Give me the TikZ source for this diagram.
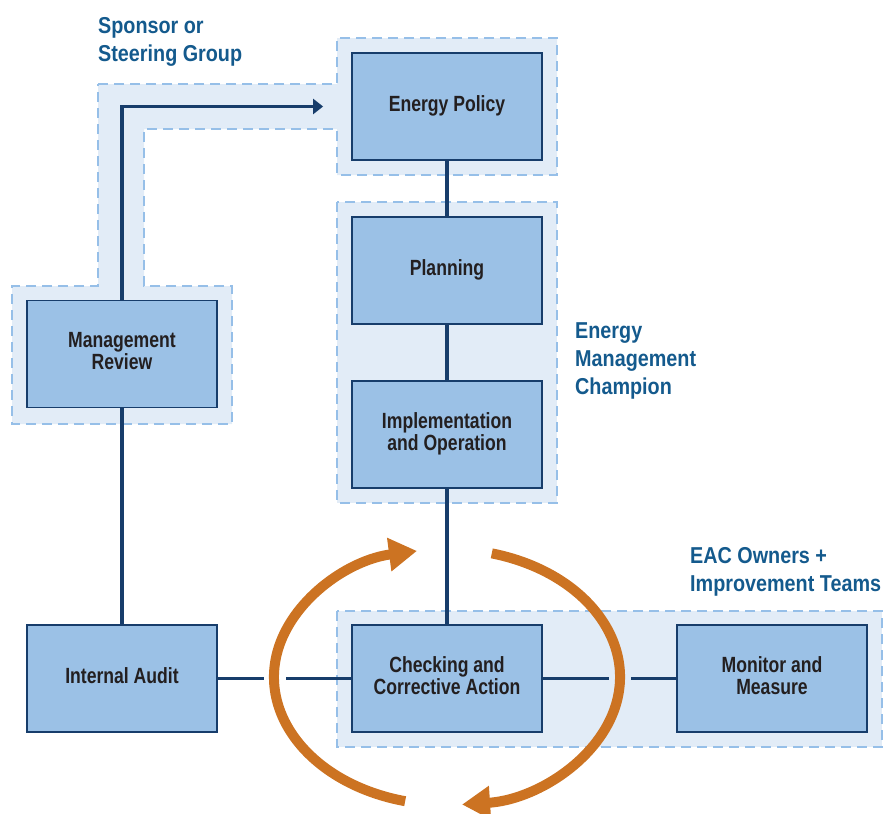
\documentclass[tikz,border=0pt]{standalone}
\usepackage{fontspec}
\setmainfont{Liberation Sans}[FakeStretch=0.86]
\newfontfamily\stagefont{Liberation Sans}[FakeStretch=0.80]
\usetikzlibrary{arrows.meta}

\definecolor{boxfill}{HTML}{9BC1E6}
\definecolor{boxline}{HTML}{173D6B}
\definecolor{zonefill}{HTML}{E2ECF7}
\definecolor{zoneline}{HTML}{96BFE8}
\definecolor{linkcol}{HTML}{173D6B}
\definecolor{labelcol}{HTML}{145A8D}
\definecolor{cyclecol}{HTML}{CC7322}
\definecolor{textcol}{HTML}{231F20}

% centred lines of a stage, each on a strut so the block sits like the set type
\newcommand{\stagelines}[1]{\begin{tabular}{@{}c@{}}#1\end{tabular}}

\tikzset{
  stage/.style={draw=boxline, line width=1.8pt, fill=boxfill,
    minimum width=190pt, minimum height=107pt, inner sep=0pt,
    text=textcol, font=\stagefont\bfseries\fontsize{22}{21}\selectfont},
  zone/.style={fill=zonefill, draw=zoneline, line width=2.6pt,
    dash pattern=on 10pt off 6pt},
  link/.style={draw=linkcol, line width=3.5pt},
  grouplabel/.style={anchor=north west, align=left, inner sep=0pt,
    text=labelcol, font=\bfseries\fontsize{23}{28}\selectfont},
  cyclearrow/.style={draw=cyclecol, line width=10pt,
    -{Triangle[length=28pt,width=32pt]}},
}

\begin{document}
\begin{tikzpicture}[x=1pt,y=1pt]
  \useasboundingbox (0,0) rectangle (884,-814);

  % responsibility zones
  \path[zone] (98,-84) -- (337,-84) -- (337,-38) -- (557,-38) -- (557,-175)
    -- (337,-175) -- (337,-129) -- (144,-129) -- (144,-286) -- (232,-286)
    -- (232,-424) -- (12,-424) -- (12,-286) -- (98,-286) -- cycle;
  \path[zone] (337,-202) rectangle (557,-503);
  \path[zone] (337,-611) rectangle (882,-747);

  % zone labels
  \node[grouplabel] (lsponsor) at (98,-17) {Sponsor or\\Steering Group};
  \node[grouplabel] (lchampion) at (575,-322) {Energy\\Management\\Champion};
  \node[grouplabel] (lowners) at (690,-547.5) {EAC Owners +\\Improvement Teams};

  % process stages
  \node[stage] (ep)  at (447,-106.5) {\stagelines{Energy Policy}};
  \node[stage] (pl)  at (447,-270.5) {\stagelines{Planning}};
  \node[stage] (io)  at (447,-434.5) {\stagelines{Implementation\\and Operation}};
  \node[stage] (mr)  at (122,-354)   {\stagelines{Management\\Review}};
  \node[stage] (ia)  at (122,-678.5) {\stagelines{Internal Audit}};
  \node[stage] (cca) at (447,-678.5) {\stagelines{Checking and\\Corrective Action}};
  \node[stage] (mm)  at (772,-678.5) {\stagelines{Monitor and\\Measure}};

  % gaps where the improvement cycle crosses the links
  \coordinate (gapLa) at (264,-678.5);
  \coordinate (gapLb) at (286,-678.5);
  \coordinate (gapRa) at (609,-678.5);
  \coordinate (gapRb) at (631,-678.5);
  \coordinate (policyin) at ([xshift=-28pt]ep.west);

  % links between stages
  \draw[link] (ep.south) -- (pl.north);
  \draw[link] (pl.south) -- (io.north);
  \draw[link] (io.south) -- (cca.north);
  \draw[link] (mr.south) -- (ia.north);
  \draw[link, -{Triangle[length=10pt,width=15pt]}] (mr.north) |- (policyin);
  \draw[link] (ia.east) -- (gapLa);
  \draw[link] (gapLb) -- (cca.west);
  \draw[link] (cca.east) -- (gapRa);
  \draw[link] (gapRb) -- (mm.west);

  % improvement cycle
  \draw[cyclearrow] (447,-677) ++(256:173 and 128)
    arc[start angle=256, end angle=100, x radius=173, y radius=128];
  \draw[cyclearrow] (447,-677) ++(75:173 and 128)
    arc[start angle=75, end angle=-85, x radius=173, y radius=128];
\end{tikzpicture}
\end{document}
